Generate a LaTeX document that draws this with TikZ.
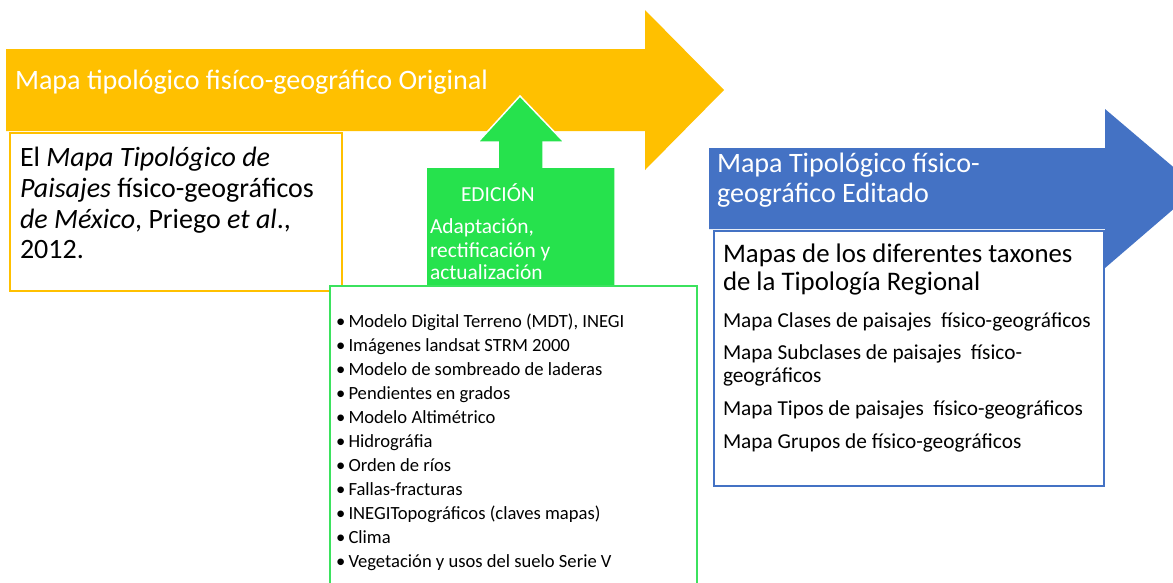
\documentclass[tikz,border=0pt]{standalone}
\usepackage{fontspec}
\setmainfont{Carlito}
\definecolor{orangeC}{HTML}{FFC000}
\definecolor{blueC}{HTML}{4472C4}
\definecolor{greenF}{HTML}{26E24D}
\definecolor{greenL}{HTML}{3BE25E}
\tikzset{
  txt/.style={anchor=base west, inner sep=0pt, outer sep=0pt},
  fA/.style={font=\fontsize{28.1}{33}\selectfont},
  fB/.style={font=\fontsize{28}{31}\selectfont},
  fC/.style={font=\fontsize{26.8}{31}\selectfont},
  fD/.style={font=\fontsize{21.3}{24}\selectfont},
  fE/.style={font=\fontsize{21.4}{23}\selectfont},
  fF/.style={font=\fontsize{18.6}{22}\selectfont},
}
\begin{document}
\begin{tikzpicture}[x=1pt,y=-1pt]
\clip (0,0) rectangle (1173,582);
\fill[white] (0,0) rectangle (1173,582);
% orange arrow
\fill[orangeC] (6,49) -- (645,49) -- (645,10) -- (724,90) -- (645,170) -- (645,131) -- (6,131) -- cycle;
\node[txt,fA,white] (t1) at (15,89) {Mapa tipológico fisíco-geográfico Original};
% left box
\draw[orangeC, line width=2pt, fill=white] (10,133) rectangle (342,291);
\node[txt,fB] (l1) at (20,166) {El \textit{Mapa Tipológico de}};
\node[txt,fB] (l2) at (20,197) {\textit{Paisajes} físico-geográficos};
\node[txt,fB] (l3) at (20,228) {\textit{de México}, Priego \textit{et al}.,};
\node[txt,fB] (l4) at (20,258) {2012.};
% green arrow
\filldraw[fill=greenF, draw=white, line width=1.5pt] (426,287) -- (426,167) -- (498,167) -- (498,142) -- (478,142) -- (520,96) -- (564,142) -- (543,142) -- (543,167) -- (615,167) -- (615,287) -- cycle;
\node[txt,fE,white] (ed) at (461,201) {EDICIÓN};
\node[txt,fE,white] (a1) at (430,233) {Adaptación,};
\node[txt,fE,white] (a2) at (430,257) {rectificación y};
\node[txt,fE,white] (a3) at (430,279) {actualización};
% green list box
\draw[greenL, line width=2pt, fill=white] (330,286) rectangle (697,600);
\foreach \t [count=\i from 0] in {Modelo Digital Terreno (MDT){,} INEGI, Imágenes landsat STRM 2000, Modelo de sombreado de laderas, Pendientes en grados, Modelo Altimétrico, Hidrográfia, Orden de ríos, Fallas-fracturas, INEGITopográficos (claves mapas), Clima, Vegetación y usos del suelo Serie V}{
  \node[txt,fF] (b\i) at (336,{327.3+24*\i}) {\textbullet};
  \node[txt,fF] (g\i) at (348.5,{327.3+24*\i}) {\t};
}
% blue arrow
\fill[blueC] (709,148) -- (1105,148) -- (1105,109) -- (1198,188) -- (1105,268) -- (1105,229) -- (709,229) -- cycle;
\node[txt,fA,white] (bt1) at (717,172) {Mapa Tipológico físico-};
\node[txt,fA,white] (bt2) at (717,202) {geográfico Editado};
% blue box
\draw[blueC, line width=2pt, fill=white] (714,231) rectangle (1104,486);
\node[txt,fC] (h1) at (723,262) {Mapas de los diferentes taxones};
\node[txt,fC] (h2) at (723,290) {de la Tipología Regional};
\node[txt,fD] (m1) at (723,327) {Mapa Clases de paisajes\ \ físico-geográficos};
\node[txt,fD] (m2) at (723,359) {Mapa Subclases de paisajes\ \ físico-};
\node[txt,fD] (m3) at (723,382) {geográficos};
\node[txt,fD] (m4) at (723,415) {Mapa Tipos de paisajes\ \ físico-geográficos};
\node[txt,fD] (m5) at (723,448) {Mapa Grupos de físico-geográficos};
\end{tikzpicture}
\end{document}
